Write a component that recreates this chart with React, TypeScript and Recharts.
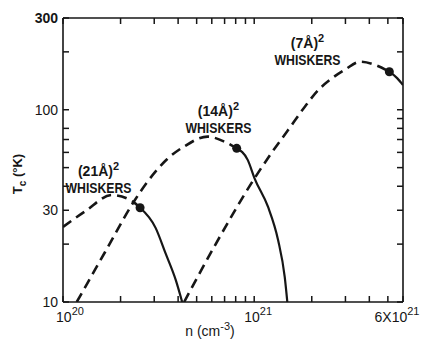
import { ComposedChart, Line, XAxis, YAxis, ReferenceDot } from "recharts";

const INK = "#161616";
const FONT = "'Liberation Sans', Arial, sans-serif";

// (21 Å)^2 whiskers
const w21DashN = [1e20, 1.31e20, 1.8e20, 2.34e20, 2.53e20];
const w21DashT = [24.6, 29.7, 36, 33.1, 30.9];
const w21SolidN = [2.53e20, 3.05e20, 3.44e20, 3.89e20, 4.2e20];
const w21SolidT = [30.9, 24.3, 17.9, 13, 10];

// (14 Å)^2 whiskers
const w14DashN = [1.18e20, 1.66e20, 2.34e20, 2.76e20, 3.51e20, 4.3e20, 5.7e20, 6.98e20, 8.1e20];
const w14DashT = [10, 18.2, 33.1, 42.1, 55.4, 64.4, 72.5, 68.2, 63];
const w14SolidN = [8.1e20, 9.26e20, 1.004e21, 1.18e21, 1.333e21, 1.444e21, 1.49e21];
const w14SolidT = [63, 54.7, 44, 31.3, 21, 13.5, 10];

// (7 Å)^2 whiskers
const w7DashN = [4.3e20, 6.18e20, 1.004e21, 1.23e21, 1.504e21, 1.84e21, 2.165e21, 2.54e21, 2.99e21, 3.58e21, 4.3e21, 5.09e21];
const w7DashT = [10, 19.4, 44, 59.5, 78.4, 103.7, 126.6, 145.3, 161.8, 177.7, 170.8, 157.7];
const w7SolidN = [5.09e21, 5.59e21, 6e21];
const w7SolidT = [157.7, 146, 134.4];

// axes
const X_MIN = 1e20;
const X_MAX = 6e21;
const Y_MIN = 10;
const Y_MAX = 300;
const X_TICKS = [1e20, 2e20, 3e20, 4e20, 5e20, 6e20, 7e20, 8e20, 9e20, 1e21, 2e21, 3e21, 4e21, 5e21, 6e21];
const Y_TICKS_LEFT = [10, 20, 30, 40, 50, 60, 70, 80, 100, 200, 300];
const Y_TICKS_RIGHT = [10, 20, 30, 40, 50, 60, 70, 80, 90, 100, 200, 300];
const Y_LABELS = [10, 30, 100, 300];
const X_LABELS: Record<string, [string, string, number]> = {
  "1e+20": ["10", "20", 7],
  "1e+21": ["10", "21", 4],
  "6e+21": ["6X10", "21", -6],
};

// curve labels: text, anchor (n, T)
const CURVE_NAMES = ["(21Å)", "(14Å)", "(7Å)"];
const CURVE_LABEL_N = [1.534e20, 6.5e20, 1.9e21];
const CURVE_LABEL_T = [36.9, 75.7, 170.8];

const zip = (ns: number[], ts: number[]) => ns.map((n, i) => ({ n, t: ts[i] }));
const last = (ns: number[], ts: number[]) => ({ n: ns[ns.length - 1], t: ts[ts.length - 1] });

const dashed = [zip(w21DashN, w21DashT), zip(w14DashN, w14DashT), zip(w7DashN, w7DashT)];
const solid = [zip(w21SolidN, w21SolidT), zip(w14SolidN, w14SolidT), zip(w7SolidN, w7SolidT)];
const dots = [last(w21DashN, w21DashT), last(w14DashN, w14DashT), last(w7DashN, w7DashT)];

const TICK = 6; // inward tick length (negative tickSize points into the plot)
const tickLine = { stroke: INK, strokeWidth: 1.5 };
const axisLine = { stroke: INK, strokeWidth: 1.6 };
const blank = () => <g />;

function BottomLabel({ x, y, payload }: any) {
  const v = Number(payload.value);
  const lab = X_LABELS[v.toExponential().replace(/\.0+e/, "e")];
  if (!lab) return <g />;
  // y sits at the inner end of the tick, so step back out past the axis
  return (
    <text x={x + lab[2]} y={y + TICK + 20} textAnchor="middle" fontSize={14} fill={INK} fontFamily={FONT}>
      {lab[0]}
      <tspan dy={-7} fontSize={11}>{lab[1]}</tspan>
    </text>
  );
}

function LeftLabel({ x, y, payload }: any) {
  const v = Number(payload.value);
  if (!Y_LABELS.includes(v)) return <g />;
  return (
    <text x={x - TICK - 5} y={y} dy="0.36em" textAnchor="end" fontSize={14} fill={INK} fontFamily={FONT}
      fontWeight={v === 300 ? "bold" : "normal"}>
      {v}
    </text>
  );
}

function CurveLabel({ cx, cy, name }: any) {
  return (
    <g fontFamily={FONT} fontWeight="bold" fill={INK}>
      <text x={cx} y={cy - 17} textAnchor="middle" fontSize={14}>
        {name}
        <tspan dy={-6} fontSize={11}>2</tspan>
      </text>
      <text x={cx} y={cy} textAnchor="middle" fontSize={14} textLength={66} lengthAdjust="spacingAndGlyphs">
        WHISKERS
      </text>
    </g>
  );
}

export default function App() {
  return (
    <div style={{ position: "absolute", left: 0, top: 0, width: 424, height: 348, background: "#fff" }}>
      {/* axes are 1px thick so they still render; margins make the plot 63..403 x 18..302 */}
      <ComposedChart width={424} height={348} margin={{ top: 17, right: 20, bottom: 45, left: 62 }}>
        <XAxis
          dataKey="n" type="number" scale="log" domain={[X_MIN, X_MAX]} allowDataOverflow
          ticks={X_TICKS} interval={0} height={1} tickSize={-TICK} tickMargin={0} tickLine={tickLine}
          tick={(p: any) => <BottomLabel {...p} />} axisLine={axisLine}
          label={{
            content: ({ viewBox }: any) => (
              <text x={viewBox.x + viewBox.width / 2 - 23} y={viewBox.y + 34} textAnchor="middle"
                fontSize={14} fill={INK} fontFamily={FONT}>
                n (cm<tspan dy={-6} fontSize={11}>-3</tspan><tspan dy={6}>)</tspan>
              </text>
            ),
          }}
        />
        <XAxis
          xAxisId="top" orientation="top" dataKey="n" type="number" scale="log" domain={[X_MIN, X_MAX]}
          allowDataOverflow ticks={X_TICKS} interval={0} height={1} tickSize={-TICK} tickMargin={0}
          tickLine={tickLine} tick={blank} axisLine={axisLine}
        />
        <YAxis
          type="number" scale="log" domain={[Y_MIN, Y_MAX]} allowDataOverflow
          ticks={Y_TICKS_LEFT} interval={0} width={1} tickSize={-TICK} tickMargin={0} tickLine={tickLine}
          tick={(p: any) => <LeftLabel {...p} />} axisLine={axisLine}
          label={{
            content: ({ viewBox }: any) => {
              const cx = viewBox.x - 40;
              const cy = viewBox.y + viewBox.height / 2 + 14;
              return (
                <text x={cx} y={cy} transform={`rotate(-90 ${cx} ${cy})`} textAnchor="middle"
                  fontSize={13} fontWeight="bold" fill={INK} fontFamily={FONT}>
                  T<tspan dy={4} fontSize={10}>c</tspan><tspan dy={-4}> (°K)</tspan>
                </text>
              );
            },
          }}
        />
        <YAxis
          yAxisId="right" orientation="right" type="number" scale="log" domain={[Y_MIN, Y_MAX]}
          allowDataOverflow ticks={Y_TICKS_RIGHT} interval={0} width={1} tickSize={-TICK} tickMargin={0}
          tickLine={tickLine} tick={blank} axisLine={axisLine}
        />
        <Line xAxisId="top" yAxisId="right" data={[{ n: 1e21, t: 100 }]} dataKey="t" stroke="none"
          dot={false} activeDot={false} isAnimationActive={false} />

        {dashed.map((d, i) => (
          <Line key={"d" + i} data={d} dataKey="t" type="monotone" stroke={INK} strokeWidth={2.6}
            strokeDasharray="10 6" dot={false} activeDot={false} isAnimationActive={false} />
        ))}
        {solid.map((d, i) => (
          <Line key={"s" + i} data={d} dataKey="t" type="monotone" stroke={INK} strokeWidth={2.2}
            dot={false} activeDot={false} isAnimationActive={false} />
        ))}
        <Line data={dots} dataKey="t" stroke="none" dot={{ r: 4.5, fill: INK, stroke: "none" }}
          activeDot={false} isAnimationActive={false} />

        {CURVE_NAMES.map((name, i) => (
          <ReferenceDot key={name} x={CURVE_LABEL_N[i]} y={CURVE_LABEL_T[i]} r={0}
            shape={(p: any) => <CurveLabel cx={p.cx} cy={p.cy} name={name} />} />
        ))}
      </ComposedChart>
    </div>
  );
}
